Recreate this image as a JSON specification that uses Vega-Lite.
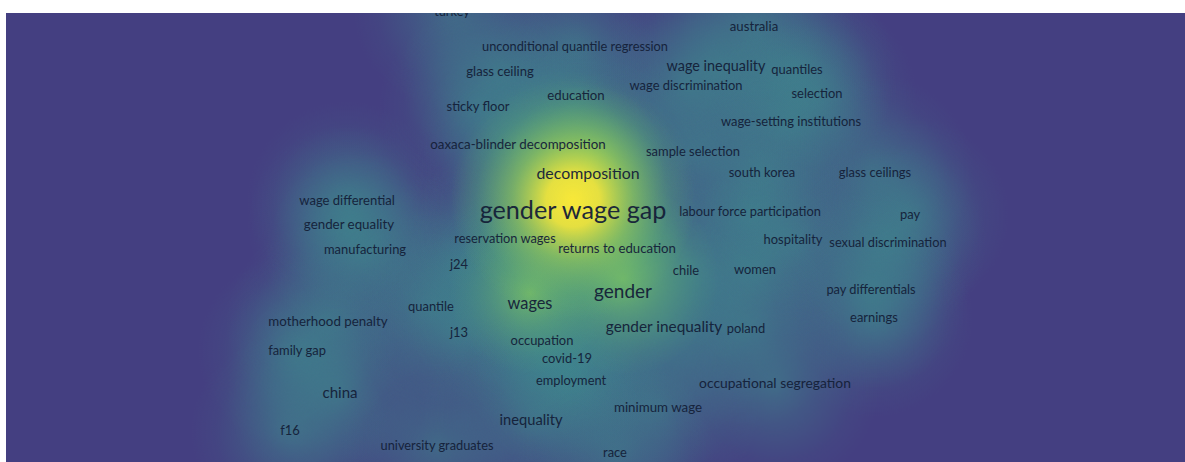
{
  "$schema": "https://vega.github.io/schema/vega-lite/v6.json",
  "autosize": {"type": "fit", "contains": "padding"},
  "width": 1185,
  "height": 462,
  "padding": {"left": 6, "top": 13, "right": 0, "bottom": 0},
  "background": "#ffffff",
  "config": {"view": {"stroke": null, "fill": "#443f81"}},
  "data": {
    "values": [
      {"term": "turkey", "x": 452, "y": 12, "occ": 8},
      {"term": "australia", "x": 754, "y": 27, "occ": 11},
      {"term": "unconditional quantile regression", "x": 575, "y": 47, "occ": 8},
      {"term": "glass ceiling", "x": 500, "y": 72, "occ": 10},
      {"term": "wage inequality", "x": 716, "y": 67, "occ": 20},
      {"term": "quantiles", "x": 797, "y": 70, "occ": 9},
      {"term": "wage discrimination", "x": 686, "y": 86, "occ": 9},
      {"term": "selection", "x": 817, "y": 94, "occ": 9},
      {"term": "education", "x": 576, "y": 96, "occ": 11},
      {"term": "sticky floor", "x": 478, "y": 107, "occ": 9},
      {"term": "wage-setting institutions", "x": 791, "y": 122, "occ": 9},
      {"term": "oaxaca-blinder decomposition", "x": 518, "y": 145, "occ": 12},
      {"term": "sample selection", "x": 693, "y": 152, "occ": 9},
      {"term": "decomposition", "x": 588, "y": 174, "occ": 31},
      {"term": "south korea", "x": 762, "y": 173, "occ": 9},
      {"term": "glass ceilings", "x": 875, "y": 173, "occ": 9},
      {"term": "gender wage gap", "x": 573, "y": 211, "occ": 100},
      {"term": "labour force participation", "x": 750, "y": 212, "occ": 8},
      {"term": "pay", "x": 910, "y": 215, "occ": 9},
      {"term": "wage differential", "x": 347, "y": 201, "occ": 10},
      {"term": "gender equality", "x": 349, "y": 225, "occ": 12},
      {"term": "manufacturing", "x": 365, "y": 250, "occ": 9},
      {"term": "reservation wages", "x": 505, "y": 239, "occ": 8},
      {"term": "returns to education", "x": 617, "y": 249, "occ": 11},
      {"term": "hospitality", "x": 793, "y": 240, "occ": 9},
      {"term": "sexual discrimination", "x": 888, "y": 243, "occ": 8},
      {"term": "j24", "x": 459, "y": 265, "occ": 9},
      {"term": "chile", "x": 686, "y": 271, "occ": 9},
      {"term": "women", "x": 755, "y": 270, "occ": 9},
      {"term": "gender", "x": 623, "y": 292, "occ": 54},
      {"term": "wages", "x": 530, "y": 304, "occ": 34},
      {"term": "quantile", "x": 431, "y": 307, "occ": 9},
      {"term": "pay differentials", "x": 871, "y": 290, "occ": 8},
      {"term": "motherhood penalty", "x": 328, "y": 322, "occ": 12},
      {"term": "earnings", "x": 874, "y": 318, "occ": 9},
      {"term": "j13", "x": 459, "y": 333, "occ": 9},
      {"term": "gender inequality", "x": 664, "y": 327, "occ": 27},
      {"term": "poland", "x": 746, "y": 329, "occ": 9},
      {"term": "occupation", "x": 542, "y": 341, "occ": 9},
      {"term": "family gap", "x": 297, "y": 351, "occ": 9},
      {"term": "covid-19", "x": 567, "y": 359, "occ": 9},
      {"term": "china", "x": 340, "y": 393, "occ": 25},
      {"term": "employment", "x": 571, "y": 381, "occ": 8},
      {"term": "occupational segregation", "x": 775, "y": 384, "occ": 16},
      {"term": "minimum wage", "x": 658, "y": 408, "occ": 12},
      {"term": "inequality", "x": 531, "y": 421, "occ": 22},
      {"term": "f16", "x": 290, "y": 431, "occ": 9},
      {"term": "university graduates", "x": 437, "y": 446, "occ": 8},
      {"term": "race", "x": 615, "y": 453, "occ": 9}
    ]
  },
  "encoding": {
    "x": {"field": "x", "type": "quantitative", "scale": {"domain": [6, 1185], "nice": false, "zero": false}, "axis": null},
    "y": {"field": "y", "type": "quantitative", "scale": {"domain": [13, 462], "nice": false, "zero": false, "reverse": true}, "axis": null}
  },
  "layer": [
    {
      "mark": {
        "type": "point", "shape": "circle", "filled": true, "opacity": 1, "strokeWidth": 0, "clip": true,
        "fill": {"gradient": "radial", "x1": 0.5, "y1": 0.5, "r1": 0, "x2": 0.5, "y2": 0.5, "r2": 0.5,
          "stops": [
            {"offset": 0, "color": "rgba(62,142,142,0.5)"},
            {"offset": 0.45, "color": "rgba(62,138,142,0.26)"},
            {"offset": 0.75, "color": "rgba(62,138,142,0.08)"},
            {"offset": 1, "color": "rgba(62,138,142,0)"}
          ]}
      },
      "encoding": {
        "size": {"field": "occ", "type": "quantitative", "legend": null, "scale": {"domain": [0, 100], "range": [32000, 110000]}}
      }
    },
    {
      "transform": [{"filter": "datum.occ >= 30"}],
      "mark": {
        "type": "point", "shape": "circle", "filled": true, "opacity": 1, "strokeWidth": 0, "clip": true,
        "fill": {"gradient": "radial", "x1": 0.5, "y1": 0.44, "r1": 0, "x2": 0.5, "y2": 0.44, "r2": 0.44,
          "stops": [
            {"offset": 0, "color": "rgba(125,196,98,0.8)"},
            {"offset": 0.45, "color": "rgba(105,182,108,0.4)"},
            {"offset": 0.8, "color": "rgba(90,170,115,0.12)"},
            {"offset": 1, "color": "rgba(90,170,115,0)"}
          ]}
      },
      "encoding": {
        "size": {"field": "occ", "type": "quantitative", "legend": null, "scale": {"domain": [20, 100], "range": [24000, 80000]}}
      }
    },
    {
      "transform": [{"filter": "datum.occ >= 80"}],
      "mark": {
        "type": "point", "shape": "circle", "filled": true, "opacity": 1, "strokeWidth": 0, "clip": true, "size": 72900,
        "fill": {"gradient": "radial", "x1": 0.5, "y1": 0.46, "r1": 0, "x2": 0.5, "y2": 0.46, "r2": 0.45,
          "stops": [
            {"offset": 0, "color": "rgba(248,232,56,1)"},
            {"offset": 0.22, "color": "rgba(240,228,60,0.92)"},
            {"offset": 0.5, "color": "rgba(160,208,82,0.5)"},
            {"offset": 0.8, "color": "rgba(100,180,110,0.15)"},
            {"offset": 1, "color": "rgba(100,180,110,0)"}
          ]}
      }
    },
    {
      "mark": {"type": "text", "font": "Lato", "color": "#142038", "opacity": 0.95, "align": "center", "baseline": "middle", "clip": true},
      "encoding": {
        "text": {"field": "term", "type": "nominal"},
        "size": {"field": "occ", "type": "quantitative", "legend": null, "scale": {"domain": [8, 100], "range": [12.8, 25.2]}}
      }
    }
  ],
  "resolve": {"scale": {"size": "independent"}}
}
